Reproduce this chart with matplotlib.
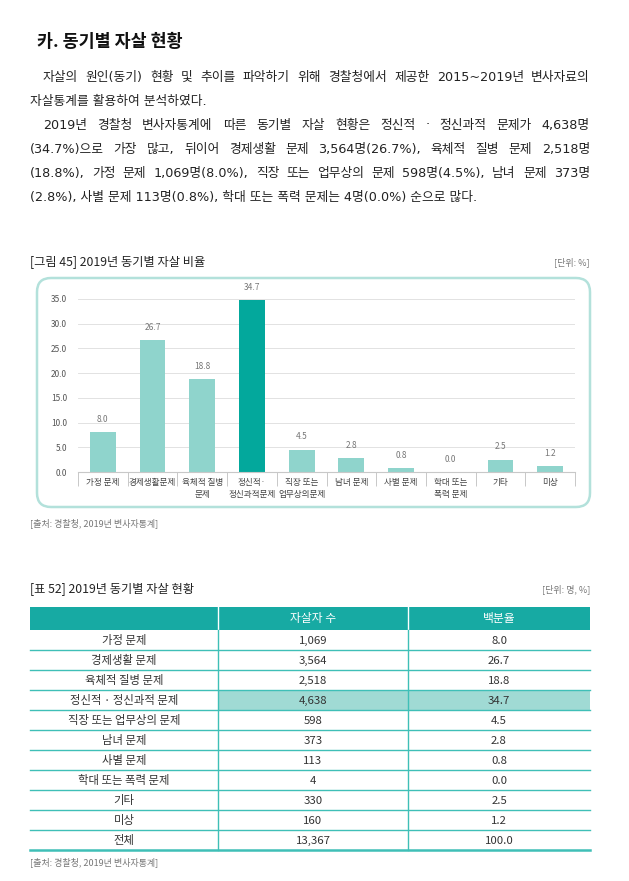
import matplotlib
matplotlib.use('Agg')
import numpy as np
from matplotlib import pyplot as plt
from matplotlib.patches import FancyBboxPatch, Rectangle

plt.rcParams['font.family'] = ['Noto Sans CJK KR', 'DejaVu Sans']

W, H = 629, 881

heading = '카. 동기별 자살 현황'
para_lines = [
    '자살의 원인(동기) 현황 및 추이를 파악하기 위해 경찰청에서 제공한 2015~2019년 변사자료의',
    '자살통계를 활용하여 분석하였다.',
    '2019년 경찰청 변사자통계에 따른 동기별 자살 현황은 정신적 · 정신과적 문제가 4,638명',
    '(34.7%)으로 가장 많고, 뒤이어 경제생활 문제 3,564명(26.7%), 육체적 질병 문제 2,518명',
    '(18.8%), 가정 문제 1,069명(8.0%), 직장 또는 업무상의 문제 598명(4.5%), 남녀 문제 373명',
    '(2.8%), 사별 문제 113명(0.8%), 학대 또는 폭력 문제는 4명(0.0%) 순으로 많다.',
]
para_indent = [True, False, True, False, False, False]
para_justify = [True, False, True, True, True, False]

chart_title = '[그림 45] 2019년 동기별 자살 비율'
chart_unit = '[단위: %]'
source_text = '[출처: 경찰청, 2019년 변사자통계]'

categories = ['가정 문제', '경제생활문제', '육체적 질병\n문제', '정신적·\n정신과적문제',
              '직장 또는\n업무상의문제', '남녀 문제', '사별 문제', '학대 또는\n폭력 문제',
              '기타', '미상']
percent = [8.0, 26.7, 18.8, 34.7, 4.5, 2.8, 0.8, 0.0, 2.5, 1.2]
y_ticks = [0, 5, 10, 15, 20, 25, 30, 35]
top_idx = 3

table_title = '[표 52] 2019년 동기별 자살 현황'
table_unit = '[단위: 명, %]'
col_headers = ['', '자살자 수', '백분율']
row_labels = ['가정 문제', '경제생활 문제', '육체적 질병 문제', '정신적 · 정신과적 문제',
              '직장 또는 업무상의 문제', '남녀 문제', '사별 문제', '학대 또는 폭력 문제',
              '기타', '미상', '전체']
counts = [1069, 3564, 2518, 4638, 598, 373, 113, 4, 330, 160, 13367]
shares = [8.0, 26.7, 18.8, 34.7, 4.5, 2.8, 0.8, 0.0, 2.5, 1.2, 100.0]

LIGHT = '#8fd4cc'
DARK = '#03a89c'
TEAL = '#17aaa3'
LINE = '#3fbfb7'
HILITE = '#a0dad4'
TXT = '#333333'
GRAY = '#777777'
PARA_FONT = ['DejaVu Sans', 'Noto Sans CJK KR']

fig = plt.figure(figsize=(W / 100, H / 100), dpi=100)
page = fig.add_axes([0, 0, 1, 1])
page.set_xlim(0, W)
page.set_ylim(H, 0)
page.axis('off')
renderer = fig.canvas.get_renderer()


def justify(x0, x1, y, line, **kw):
    words = line.split(' ')
    txts = [page.text(0, y, w, va='center', ha='left', **kw) for w in words]
    widths = [t.get_window_extent(renderer).width for t in txts]
    gap = (x1 - x0 - sum(widths)) / max(len(words) - 1, 1)
    x = x0
    for t, w in zip(txts, widths):
        t.set_x(x)
        x += w + gap


# heading + paragraph
page.text(37, 42, heading, fontsize=12.5, fontweight='bold', va='center', color='#111111')
for i, line in enumerate(para_lines):
    y = 77 + i * 24
    x0 = 43 if para_indent[i] else 30
    kw = dict(fontsize=9.2, color='#222222', family=PARA_FONT)
    if para_justify[i]:
        justify(x0, 590, y, line, **kw)
    else:
        page.text(x0, y, line, va='center', **kw)

# chart heading and frame
page.text(30, 262, chart_title, fontsize=8.8, va='center', color='#222222')
page.text(590, 262, chart_unit, fontsize=6.5, va='center', ha='right', color=GRAY)
r = 14
page.add_patch(FancyBboxPatch((37 + r, 278 + r), 553 - 2 * r, 229 - 2 * r,
                              boxstyle=f'round,pad={r}', fc='white', ec='#b3e1db', lw=1.8))
page.text(30, 523, source_text, fontsize=6.5, va='center', color=GRAY)

ax = fig.add_axes([78 / W, 1 - 472 / H, (575 - 78) / W, (472 - 299) / H])
x = np.arange(len(categories))
colors = [DARK if i == top_idx else LIGHT for i in range(len(categories))]
ax.bar(x, percent, width=0.52, color=colors, zorder=2)
for i, v in enumerate(percent):
    ax.annotate(f'{v:.1f}', (i, v), xytext=(0, 6), textcoords='offset points',
                ha='center', va='bottom', fontsize=6, color=GRAY)
ax.set_xlim(-0.5, len(categories) - 0.5)
ax.set_ylim(0, 35)
ax.set_yticks(y_ticks)
ax.set_yticklabels([f'{v:.1f}' for v in y_ticks], fontsize=6, color='#555555')
ax.yaxis.grid(True, color='#e2e2e2', lw=0.7)
ax.set_axisbelow(True)
ax.set_xticks(x)
ax.set_xticklabels(categories, fontsize=6.2, color='#444444', linespacing=1.5)
ax.set_xticks(np.arange(-0.5, len(categories), 1), minor=True)
ax.tick_params(axis='y', length=0, pad=8)
ax.tick_params(axis='x', which='major', length=0, pad=4)
ax.tick_params(axis='x', which='minor', length=10, color='#c8c8c8', width=0.7)
for s in ['top', 'right', 'left']:
    ax.spines[s].set_visible(False)
ax.spines['bottom'].set_color('#c8c8c8')
ax.patch.set_alpha(0)

# table
page.text(30, 589, table_title, fontsize=8.8, va='center', color='#222222')
page.text(590, 589, table_unit, fontsize=6.5, va='center', ha='right', color=GRAY)
cols = [30, 218, 408, 590]
top, hh, rh = 607, 23, 20
page.add_patch(Rectangle((cols[0], top), cols[-1] - cols[0], hh, fc=TEAL, ec='none'))
for j in range(1, 3):
    page.text((cols[j] + cols[j + 1]) / 2, top + hh / 2, col_headers[j], fontsize=8.5,
              color='white', ha='center', va='center')
    page.plot([cols[j], cols[j]], [top, top + hh], color='white', lw=1)
body = top + hh
page.add_patch(Rectangle((cols[1], body + top_idx * rh), cols[-1] - cols[1], rh,
                         fc=HILITE, ec='none'))
for i, lab in enumerate(row_labels):
    yc = body + i * rh + rh / 2
    vals = [lab, f'{counts[i]:,}', f'{shares[i]:.1f}']
    for j, v in enumerate(vals):
        page.text((cols[j] + cols[j + 1]) / 2, yc + 0.5, v, fontsize=8.2, color=TXT,
                  ha='center', va='center')
    lw = 1.8 if i == len(row_labels) - 1 else 1.0
    page.plot([cols[0], cols[-1]], [body + (i + 1) * rh] * 2, color=LINE, lw=lw)
for j in (1, 2):
    page.plot([cols[j], cols[j]], [body, body + len(row_labels) * rh], color=LINE, lw=1.0)
page.text(30, 862, source_text, fontsize=6.5, va='center', color=GRAY)

fig.savefig('out.png', dpi=100)
